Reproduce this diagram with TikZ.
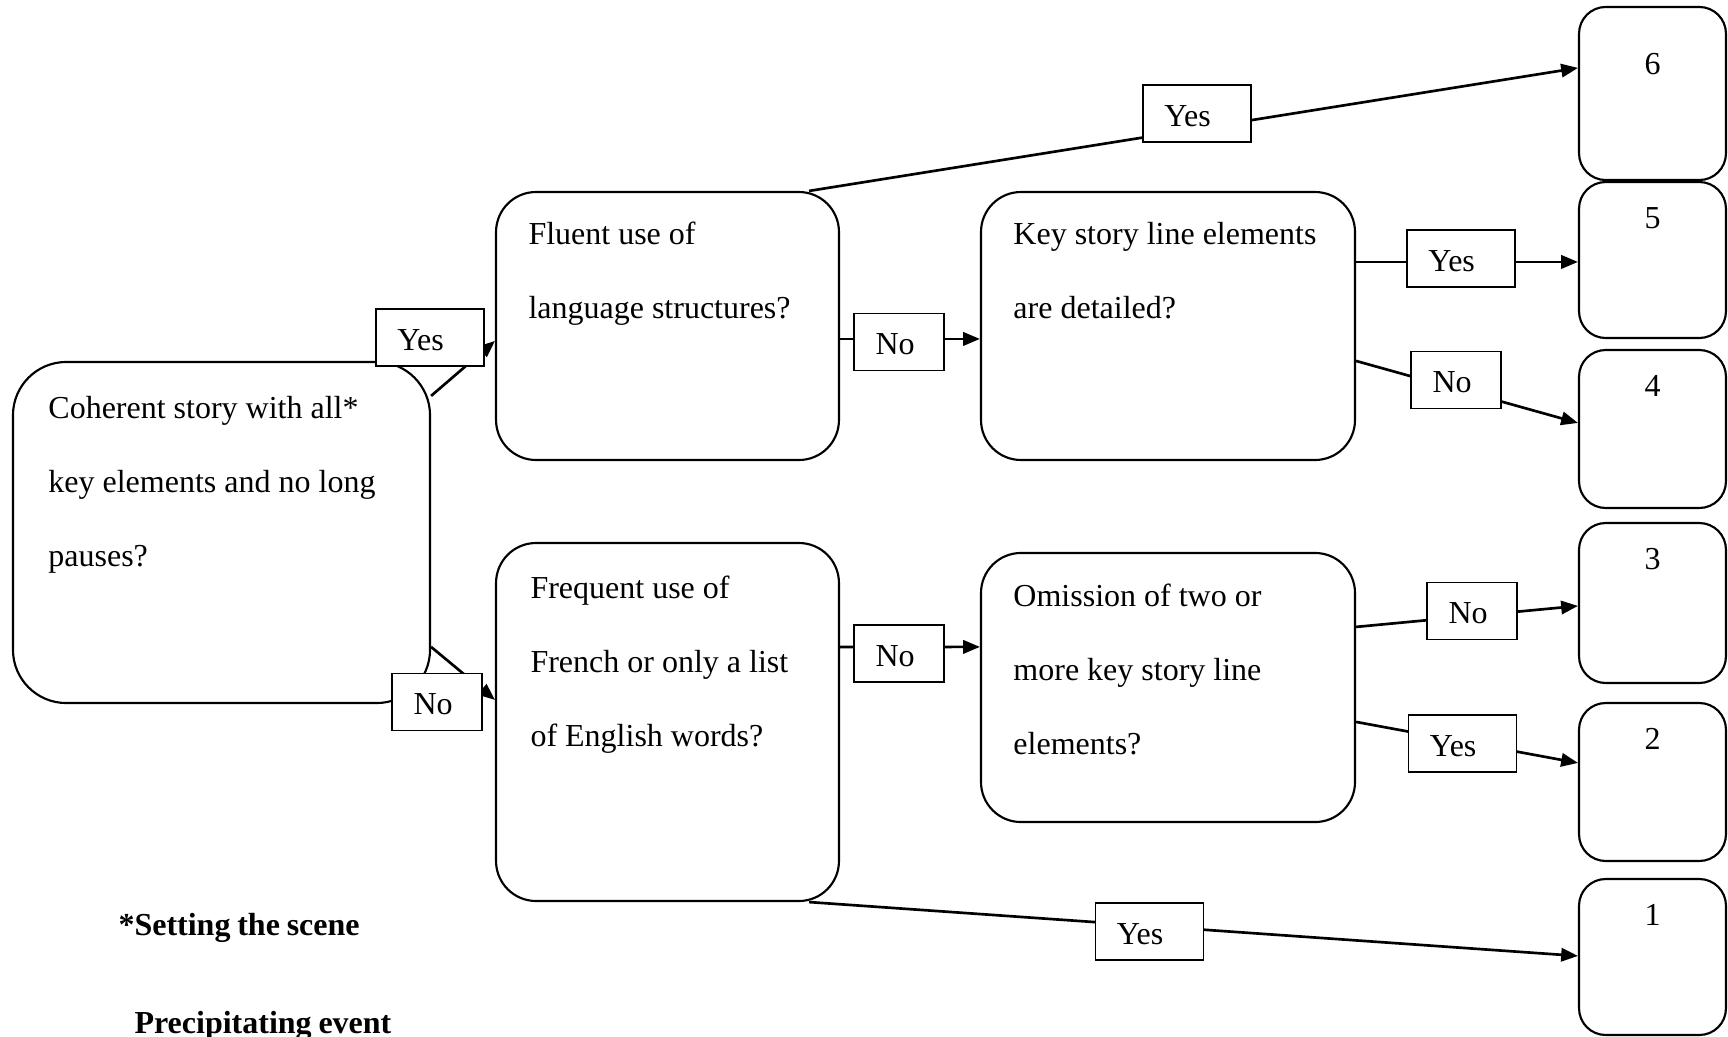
\documentclass[tikz,border=0pt]{standalone}
\usepackage{fontspec}
\setmainfont{Liberation Serif}[BoldFeatures={WordSpace=0.85}]
\usetikzlibrary{calc,arrows.meta}

\begin{document}
\begin{tikzpicture}[x=0.375pt,y=-0.375pt,
    every node/.style={font=\fontsize{12}{14.4}\selectfont},
    qbox/.style={draw,line width=0.8pt,rounded corners=15pt,inner sep=0pt},
    obox/.style={draw,line width=0.8pt,rounded corners=10pt,inner sep=0pt,minimum width=55.1pt},
    qtext/.style={anchor=base west,inner sep=0pt,align=flush left,text width=#1,font=\fontsize{12}{27.75}\selectfont},
    lbl/.style={draw,fill=white,line width=0.6pt,inner xsep=8pt,inner ysep=0pt,minimum height=21.4pt,text height=9.5pt,text depth=0pt,align=flush left},
    yeslbl/.style={lbl,text width=24.5pt},
    nolbl/.style={lbl,text width=17.6pt},
    link/.style={line width=1pt,-{Triangle[length=6.3pt,width=5pt]}}]
            \useasboundingbox (0,0) rectangle (1728,1036);
            % Question boxes
            \node[qbox,minimum width=156.4pt,minimum height=127.9pt,rounded corners=20pt] (qa) at (221.5,532.5) {};
            \node[qbox,minimum width=128.6pt,minimum height=100.5pt] (qb) at (667.5,326) {};
            \node[qbox,minimum width=128.6pt,minimum height=134.25pt] (qc) at (667.5,722) {};
            \node[qbox,minimum width=140.25pt,minimum height=100.5pt] (qd) at (1168,326) {};
            \node[qbox,minimum width=140.25pt,minimum height=100.9pt] (qe) at (1168,687.5) {};
            \node[qtext=130pt] (ta) at ($(qa.north west)+(36,58)$) {Coherent story with all*\\key elements and no long\\pauses?};
            \node[qtext=110pt] (tb) at ($(qb.north west)+(33,54)$) {Fluent use of\\language structures?};
            \node[qtext=110pt] (tc) at ($(qc.north west)+(35,57)$) {Frequent use of\\French or only a list\\of English words?};
            \node[qtext=125pt] (td) at ($(qd.north west)+(33,54)$) {Key story line elements\\are detailed?};
            \node[qtext=125pt] (te) at ($(qe.north west)+(33,55)$) {Omission of two or\\more key story line\\elements?};
            % Outcome boxes
            \node[obox,minimum height=64.9pt] (o6) at (1652.5,93.5) {};
            \node[obox,minimum height=58.5pt] (o5) at (1652.5,260) {};
            \node[obox,minimum height=59.25pt] (o4) at (1652.5,429) {};
            \node[obox,minimum height=60pt] (o3) at (1652.5,603) {};
            \node[obox,minimum height=59.25pt] (o2) at (1652.5,782) {};
            \node[obox,minimum height=58.5pt] (o1) at (1652.5,957) {};
            \node (n6) at ($(o6.north)+(0,58)$) {6};
            \node (n5) at ($(o5.north)+(0,37)$) {5};
            \node (n4) at ($(o4.north)+(0,37)$) {4};
            \node (n3) at ($(o3.north)+(0,37)$) {3};
            \node (n2) at ($(o2.north)+(0,37)$) {2};
            \node (n1) at ($(o1.north)+(0,37)$) {1};
            % Connectors
            \draw[link] ($(qa.north east)+(0,35)$) -- ($(qb.north west)+(0,150)$);
            \draw[link] ($(qa.north east)+(0,286)$) -- ($(qc.north west)+(0,158)$);
            \draw[link] ($(qb.north east)+(0,148)$) -- ($(qd.north west)+(0,148)$);
            \draw[link] ($(qc.north east)+(0,105)$) -- ($(qe.north west)+(0,95)$);
            \draw[link] ($(qb.north east)+(-31,0)$) -- ($(o6.north west)+(0,62)$);
            \draw[link] ($(qd.north east)+(0,71)$) -- ($(o5.north west)+(0,81)$);
            \draw[link] ($(qd.north east)+(0,170)$) -- ($(o4.north west)+(0,74)$);
            \draw[link] ($(qe.north east)+(0,75)$) -- ($(o3.north west)+(0,84)$);
            \draw[link] ($(qe.north east)+(0,170)$) -- ($(o2.north west)+(0,61)$);
            \draw[link] ($(qc.south east)+(-31,0)$) -- ($(o1.north west)+(0,78)$);
            % Answer labels
            \node[yeslbl] (ya) at (430,337.5) {Yes};
            \node[nolbl] (na) at (437,702) {No};
            \node[nolbl] (nb) at (899,342) {No};
            \node[nolbl] (nc) at (899,653.5) {No};
            \node[yeslbl] (yb) at (1197,113.5) {Yes};
            \node[yeslbl] (yd) at (1461,258.5) {Yes};
            \node[nolbl] (nd) at (1456,380) {No};
            \node[nolbl] (ne) at (1472,611) {No};
            \node[yeslbl] (ye) at (1462.5,743.5) {Yes};
            \node[yeslbl] (yc) at (1149.5,931.5) {Yes};
            % Notes
            \node[anchor=base west,inner sep=0pt,font=\bfseries\fontsize{12}{14.4}\selectfont] (note1) at (118,935) {*Setting the scene};
            \node[anchor=base west,inner sep=0pt,font=\bfseries\fontsize{12}{14.4}\selectfont] (note2) at (134,1033) {Precipitating event};
\end{tikzpicture}
\end{document}
